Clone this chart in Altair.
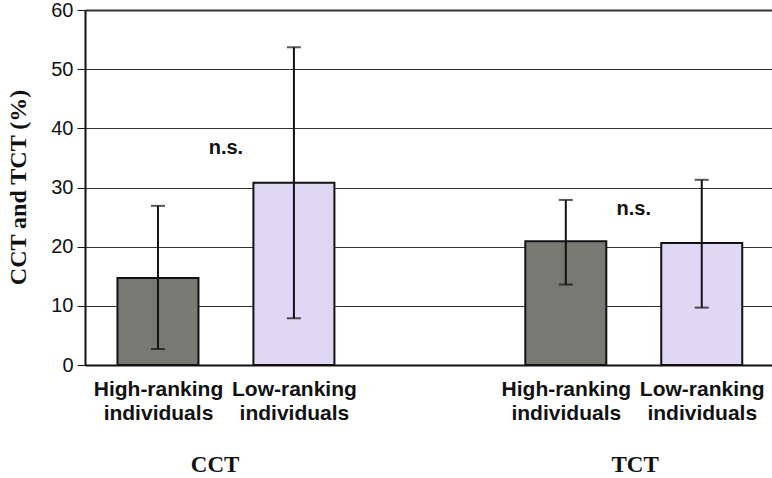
import altair as alt
import pandas as pd

# Bar slots on the x axis (slot 3 is left empty to separate the two measures)
slots = [1, 2, 4, 5]
measures = ["CCT", "CCT", "TCT", "TCT"]
ranks = ["High-ranking", "Low-ranking", "High-ranking", "Low-ranking"]
means = [14.7, 30.8, 20.9, 20.6]
lows = [2.7, 7.9, 13.6, 9.7]
highs = [26.9, 53.7, 27.9, 31.3]
fills = ["#797973", "#E0D7F4", "#797973", "#E0D7F4"]

# Significance annotations and group captions
ns_x = [1.5, 4.5]
ns_y = [36.7, 26.4]
ns_text = ["n.s.", "n.s."]
group_x = [1.42, 4.51]
group_text = ["CCT", "TCT"]

bars = pd.DataFrame({
    "slot": slots, "measure": measures, "rank": ranks,
    "mean": means, "lo": lows, "hi": highs, "fill": fills,
})
ns_df = pd.DataFrame({"x": ns_x, "y": ns_y, "t": ns_text})
grp_df = pd.DataFrame({"x": group_x, "t": group_text})

# Two-line tick labels built from the rank names
label_expr = " : ".join(
    f"datum.value == {s} ? ['{r}', 'individuals']" for s, r in zip(slots, ranks)
) + " : ''"

x_scale = alt.Scale(domain=[0.5, 5.48], nice=False, zero=False)
y_scale = alt.Scale(domain=[0, 60], nice=False)

x_axis = alt.Axis(
    values=slots, labelExpr=label_expr, title=None, ticks=False,
    domainColor="#111111", domainWidth=2, grid=False,
    labelFont="Liberation Sans", labelFontSize=21, labelFontWeight="bold",
    labelColor="#111111", labelPadding=13, labelLineHeight=24,
    labelBaseline="top", labelAngle=0,
)
y_axis = alt.Axis(
    values=[0, 10, 20, 30, 40, 50, 60], title="CCT and TCT (%)",
    titleFont="Liberation Serif", titleFontSize=24, titleFontWeight="bold",
    titleColor="#111111", titleAngle=270, titleBaseline="middle",
    titleAlign="center", titleX=-67, titleY=177,
    labelFont="Liberation Sans", labelFontSize=20, labelColor="#111111",
    labelPadding=4, tickSize=8, tickColor="#111111", tickWidth=1,
    domainColor="#111111", domainWidth=2,
    grid=True, gridColor="#333333",
    gridWidth={"condition": {"test": "datum.value === 60", "value": 2}, "value": 1},
)

base = alt.Chart(bars)

bar_layer = base.mark_bar(size=81, stroke="#111111", strokeWidth=2).encode(
    x=alt.X("slot:Q", scale=x_scale, axis=x_axis),
    y=alt.Y("mean:Q", scale=y_scale, axis=y_axis),
    fill=alt.Fill("fill:N", scale=None, legend=None),
)

whisker = base.mark_rule(color="#111111", strokeWidth=2).encode(
    x="slot:Q", y="lo:Q", y2="hi:Q",
)
cap_lo = base.mark_tick(orient="horizontal", size=14, thickness=2, color="#111111").encode(
    x="slot:Q", y="lo:Q",
)
cap_hi = base.mark_tick(orient="horizontal", size=14, thickness=2, color="#111111").encode(
    x="slot:Q", y="hi:Q",
)

ns_layer = alt.Chart(ns_df).mark_text(
    font="Liberation Sans", fontSize=20, fontWeight="bold", color="#111111",
    baseline="middle", align="center",
).encode(x="x:Q", y="y:Q", text="t:N")

grp_layer = alt.Chart(grp_df).mark_text(
    font="Liberation Serif", fontSize=23, fontWeight="bold", color="#111111",
    baseline="middle", align="center",
).encode(x="x:Q", y=alt.value(455), text="t:N")

chart = alt.layer(bar_layer, whisker, cap_lo, cap_hi, ns_layer, grp_layer).properties(
    width=687, height=355,
    autosize=alt.AutoSizeParams(type="none"),
    padding={"left": 85, "top": 10, "right": 0, "bottom": 113},
).configure_view(stroke=None).configure(background="white")

chart.save("out.html", embed_options={"renderer": "svg", "actions": False})
